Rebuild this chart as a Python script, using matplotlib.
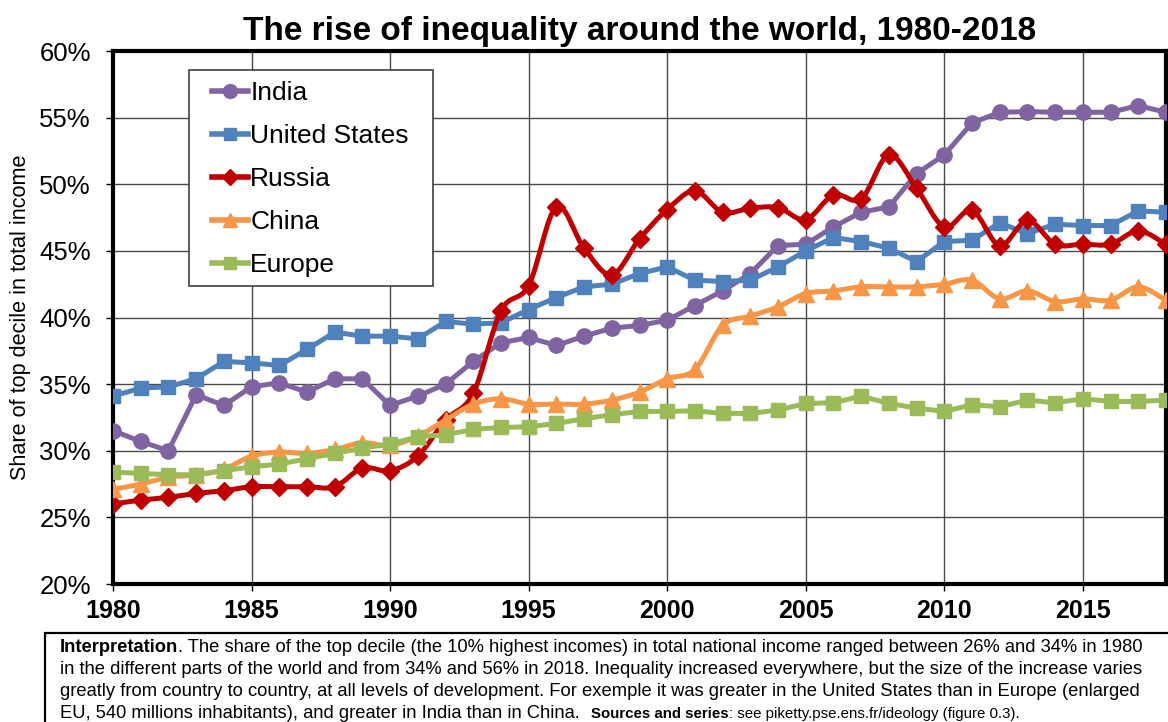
import numpy as np
import matplotlib
matplotlib.use("Agg")
import matplotlib.pyplot as plt
from matplotlib.path import Path
from matplotlib.patches import PathPatch, Rectangle
from matplotlib.lines import Line2D

plt.rcParams["font.family"] = ["Liberation Sans", "DejaVu Sans"]

# Top decile share of national income (%)
years = list(range(1980, 2019))

india = [31.5, 30.7, 30.0, 34.2, 33.4, 34.8, 35.1, 34.4, 35.4, 35.4,
         33.4, 34.1, 35.0, 36.7, 38.1, 38.5, 37.9, 38.6, 39.2, 39.4,
         39.8, 40.9, 42.0, 43.3, 45.4, 45.5, 46.8, 47.9, 48.3, 50.8,
         52.2, 54.6, 55.4, 55.45, 55.4, 55.4, 55.4, 55.9, 55.4]
usa = [34.1, 34.7, 34.8, 35.4, 36.7, 36.6, 36.4, 37.6, 38.9, 38.6,
       38.6, 38.4, 39.7, 39.5, 39.6, 40.6, 41.5, 42.3, 42.5, 43.3,
       43.8, 42.8, 42.7, 42.8, 43.8, 45.0, 46.0, 45.7, 45.2, 44.2,
       45.7, 45.8, 47.1, 46.3, 47.0, 46.9, 46.9, 48.0, 47.9]
russia = [26.0, 26.3, 26.5, 26.8, 27.0, 27.3, 27.3, 27.3, 27.3, 28.7,
          28.5, 29.6, 32.3, 34.3, 40.5, 42.4, 48.3, 45.2, 43.2, 45.9,
          48.1, 49.5, 47.9, 48.2, 48.25, 47.35, 49.2, 48.9, 52.2, 49.7,
          46.8, 48.05, 45.4, 47.3, 45.5, 45.5, 45.5, 46.5, 45.5]
china = [27.1, 27.5, 28.0, 28.2, 28.6, 29.6, 29.9, 29.8, 30.1, 30.6,
         30.4, 31.1, 32.3, 33.5, 33.9, 33.5, 33.5, 33.5, 33.8, 34.4,
         35.4, 36.1, 39.4, 40.1, 40.8, 41.8, 42.0, 42.3, 42.3, 42.3,
         42.5, 42.8, 41.4, 42.0, 41.2, 41.4, 41.3, 42.3, 41.3]
europe = [28.4, 28.3, 28.2, 28.2, 28.5, 28.8, 29.0, 29.4, 29.8, 30.2,
          30.5, 31.05, 31.2, 31.6, 31.75, 31.8, 32.05, 32.4, 32.7, 32.95,
          32.95, 33.0, 32.8, 32.8, 33.05, 33.55, 33.6, 34.1, 33.55, 33.2,
          32.95, 33.45, 33.3, 33.8, 33.6, 33.9, 33.7, 33.7, 33.8]

labels = ["India", "United States", "Russia", "China", "Europe"]
series = [india, usa, russia, china, europe]
colors = ["#8064A2", "#4F81BD", "#C00000", "#F79646", "#9BBB59"]
markers = ["o", "s", "D", "^", "s"]
msizes = [11, 10, 9, 11, 10]
smoothed = [False, False, True, True, False]

y_ticks = [20, 25, 30, 35, 40, 45, 50, 55, 60]
x_ticks = [1980, 1985, 1990, 1995, 2000, 2005, 2010, 2015]

title = "The rise of inequality around the world, 1980-2018"
ylabel = "Share of top decile in total income"


def smooth_path(x, y):
    # Excel-style smoothed line: cubic bezier through every point
    pts = np.column_stack([x, y]).astype(float)
    verts = [pts[0]]
    codes = [Path.MOVETO]
    n = len(pts)
    for i in range(n - 1):
        p0 = pts[i - 1] if i > 0 else pts[i]
        p1, p2 = pts[i], pts[i + 1]
        p3 = pts[i + 2] if i + 2 < n else pts[i + 1]
        verts += [p1 + (p2 - p0) / 6, p2 - (p3 - p1) / 6, p2]
        codes += [Path.CURVE4] * 3
    return Path(verts, codes)


fig = plt.figure(figsize=(11.68, 7.22), dpi=100)
ax = fig.add_axes([113 / 1168, 1 - 584 / 722, 1053 / 1168, 533 / 722])

handles = []
for i, (lab, vals, c, m, ms, sm) in enumerate(zip(labels, series, colors, markers, msizes, smoothed)):
    z = 3 + i
    if sm:
        ax.add_patch(PathPatch(smooth_path(years, vals), fill=False, edgecolor=c,
                               lw=3.6, capstyle="round", joinstyle="round", zorder=z))
        ax.plot(years, vals, ls="none", marker=m, ms=ms, color=c, mec=c, zorder=z)
    else:
        ax.plot(years, vals, "-", marker=m, ms=ms, color=c, mec=c, lw=3.6,
                solid_joinstyle="round", zorder=z)
    handles.append(Line2D([], [], color=c, lw=4, marker=m, ms=ms - 1, mec=c))

ax.set_xlim(1980, 2018)
ax.set_ylim(20, 60)
ax.set_xticks(x_ticks)
ax.set_yticks(y_ticks)
ax.set_yticklabels([f"{v}%" for v in y_ticks], fontsize=18.5)
ax.set_xticklabels([str(v) for v in x_ticks], fontsize=18, fontweight="bold")
ax.tick_params(axis="both", direction="out", length=5, width=1, color="black")
ax.tick_params(axis="y", pad=11)
ax.tick_params(axis="x", pad=6)

ax.grid(True, color="#4a4a4a", lw=1)
ax.set_axisbelow(True)
for s in ax.spines.values():
    s.set_linewidth(3)
    s.set_color("black")

ax.set_ylabel(ylabel, fontsize=15.6)
ax.yaxis.set_label_coords(-0.078, 0.5)
ax.set_title(title, fontsize=24, fontweight="bold", pad=8)

# legend box drawn separately so its padding matches the original
ax.add_patch(Rectangle((0.072, 0.56), 0.232, 0.405, transform=ax.transAxes,
                       facecolor="white", edgecolor="#404040", lw=1.2, zorder=19))
leg = ax.legend(handles, labels, loc="upper left", bbox_to_anchor=(0.094, 0.944),
                borderaxespad=0, fontsize=19, handlelength=1.35, handletextpad=0.1,
                labelspacing=0.72, borderpad=0, frameon=False)
leg.set_zorder(20)

# Interpretation box below the chart
fig.patches.append(Rectangle((45 / 1168, -0.01), 1.0, 0.01 + (722 - 633) / 722,
                             transform=fig.transFigure, fill=False, edgecolor="black",
                             lw=1.6))

fs = 13.25
tx = 60 / 1168
t1 = fig.text(tx, 1 - 648 / 722, "Interpretation", fontsize=fs, fontweight="bold", va="center")
lines = [
    "in the different parts of the world and from 34% and 56% in 2018. Inequality increased "
    "everywhere, but the size of the increase varies",
    "greatly from country to country, at all levels of development. For exemple it was greater "
    "in the United States than in Europe (enlarged",
]
for k, ln in enumerate(lines):
    fig.text(tx, 1 - (670 + 22 * k) / 722, ln, fontsize=fs, va="center")
t4 = fig.text(tx, 1 - 714 / 722, "EU, 540 millions inhabitants), and greater in India than in China.",
              fontsize=fs, va="center")

fig.canvas.draw()
r = fig.canvas.get_renderer()
bb1 = t1.get_window_extent(r)
fig.text(bb1.x1 / fig.bbox.width, 1 - 648 / 722,
         ". The share of the top decile (the 10% highest incomes) in total national income "
         "ranged between 26% and 34% in 1980", fontsize=fs, va="center")
bb4 = t4.get_window_extent(r)
t5 = fig.text(bb4.x1 / fig.bbox.width + 0.01, 1 - 714 / 722, "Sources and series",
              fontsize=fs - 2.4, fontweight="bold", va="center")
fig.canvas.draw()
bb5 = t5.get_window_extent(r)
fig.text(bb5.x1 / fig.bbox.width, 1 - 714 / 722,
         ": see piketty.pse.ens.fr/ideology (figure 0.3).", fontsize=fs - 2.4, va="center")

fig.savefig("out.png", dpi=100)
